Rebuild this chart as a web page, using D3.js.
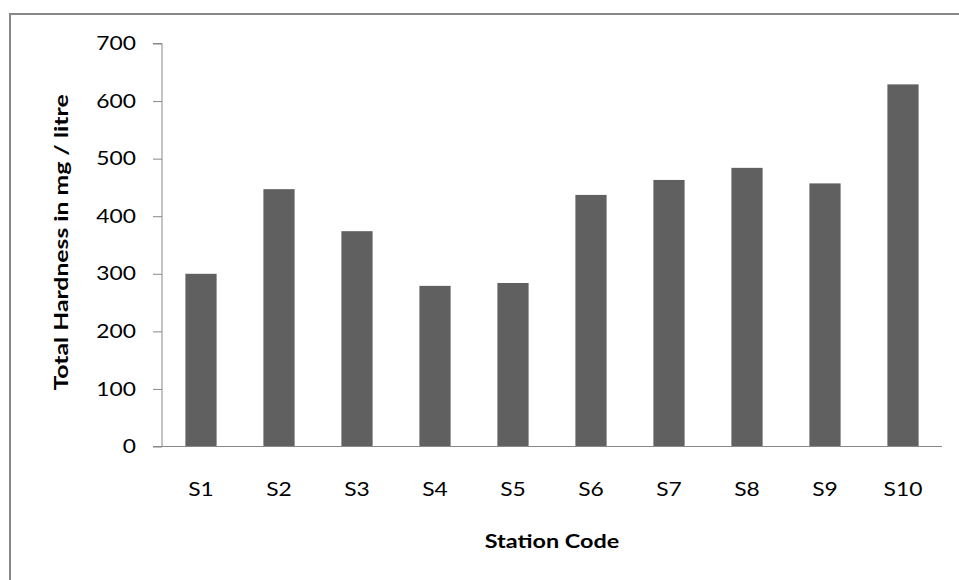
<!DOCTYPE html>
<html><head><meta charset="utf-8">
<script src="https://cdn.jsdelivr.net/npm/d3@7"></script>
<style>body{margin:0;background:#fff}svg{display:block}</style>
</head><body>
<svg id="c" width="959" height="580"></svg>
<script>
const categories = ["S1","S2","S3","S4","S5","S6","S7","S8","S9","S10"];
const values = [300,447,374,279,284,437,463,484,457,629];
const yTicks = [0,100,200,300,400,500,600,700];
const yTitle = "Total Hardness in mg / litre";
const xTitle = "Station Code";

const svg = d3.select("#c");
const font = "Lato, 'Open Sans', sans-serif";
const sx = 1.2; // horizontal glyph stretch
// frame
svg.append("path").attr("d","M10,580 L10,14 L959,14").attr("fill","none").attr("stroke","#888").attr("stroke-width",2);

const x = d3.scaleBand().domain(categories).range([162,942]).paddingInner(0.6).paddingOuter(0.3);
const y = d3.scaleLinear().domain([0,700]).range([446.5,43.5]);

svg.append("g").selectAll("rect").data(values).join("rect")
  .attr("x",(d,i)=>x(categories[i]))
  .attr("width",x.bandwidth())
  .attr("y",d=>y(d))
  .attr("height",d=>y(0)-y(d))
  .attr("fill","#606060");

const ya = svg.append("g").attr("transform","translate(162,0)")
  .call(d3.axisLeft(y).tickValues(yTicks).tickSize(9).tickPadding(17));
ya.select(".domain").attr("stroke","#888").attr("d","M-9,43.5H0V446.5");
ya.selectAll(".tick line").attr("stroke","#888");
ya.selectAll(".tick text").attr("font-family",font).attr("font-size",19).attr("fill","#000")
  .attr("x",0).attr("transform",`translate(-26,0) scale(${sx},1)`);

const xa = svg.append("g").attr("transform","translate(0,446.5)")
  .call(d3.axisBottom(x).tickSize(0));
xa.select(".domain").attr("stroke","#888").attr("d","M153,0H942");
xa.selectAll(".tick text").attr("font-family",font).attr("font-size",19).attr("fill","#000")
  .attr("y",0).attr("dy",null).attr("transform",`translate(0,49.5) scale(${sx},1)`);

svg.append("text").attr("transform",`translate(552,548) scale(${sx},1)`).attr("text-anchor","middle")
  .attr("font-family",font).attr("font-weight","bold").attr("font-size",19.5).text(xTitle);
svg.append("text").attr("transform",`translate(68,242.5) rotate(-90) scale(1.27,1)`).attr("text-anchor","middle")
  .attr("font-family",font).attr("font-weight","bold").attr("font-size",19.5).text(yTitle);
</script>
</body></html>
